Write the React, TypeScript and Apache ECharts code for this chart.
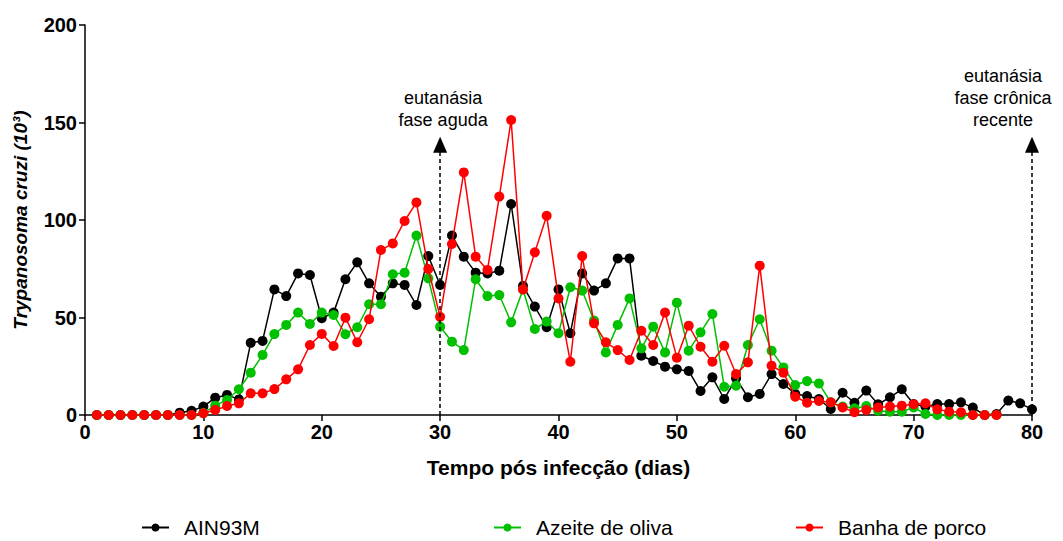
import React, { useEffect, useRef } from "react";
import * as echarts from "echarts";

// Parasitemia (x10^3 trypomastigotes) per day post infection, per diet group
const seriesNames = ["AIN93M", "Azeite de oliva", "Banha de porco"];
const seriesColors = ["#000000", "#00c000", "#ff0000"];

const ain93m = [
  0, 0, 0, 0, 0, 0, 0, 1.2, 2.2, 4.3,
  8.9, 10.3, 8, 37, 38, 64.4, 61, 72.6, 71.8, 49.6,
  52.5, 69.6, 78.3, 67.5, 60.7, 67.5, 66.7, 56.4, 81.5, 66.7,
  92, 81.2, 73, 72.6, 74, 108.2, 66.2, 55.6, 45, 64.4,
  41.9, 72.6, 63.8, 67.5, 80.3, 80.3, 30.4, 27.7, 24.8, 23.4,
  22.6, 12.3, 19.3, 8.2, 18.8, 9.1, 10.8, 21, 15.9, 10.8,
  9.7, 8.2, 3.1, 11.4, 6.3, 12.5, 5.5, 9.1, 13.2, 5.6,
  4.3, 5.6, 5.6, 6.5, 3.8, 0, 0.5, 7.4, 6, 2.9,
];

const azeite = [
  0, 0, 0, 0, 0, 0, 0, 0, 0, 1,
  4.8, 7.7, 13.2, 21.7, 30.8, 41.5, 46.2, 52.5, 46.7, 52.5,
  51.3, 41.4, 45, 56.8, 56.8, 72.2, 73, 92, 70.1, 45.3,
  37.6, 33.3, 69.6, 61, 61.5, 47.5, 64.4, 44.1, 47.9, 41.9,
  65.5, 63.8, 48.4, 32.1, 46.2, 59.8, 34.2, 45.3, 32.1, 57.6,
  33, 42.4, 51.8, 14.5, 15, 35.9, 49.1, 33, 24.4, 15.4,
  17.4, 16.2, 6.5, 4.3, 3.4, 4.6, 2.2, 1.7, 1.7, 3.9,
  0.5, 0, 0, 0, 0, 0, 0,
];

const banha = [
  0, 0, 0, 0, 0, 0, 0, 0, 0, 0.9,
  2.6, 4.6, 6, 11.1, 11.1, 13.3, 18.3, 23.4, 35.9, 41.6,
  35.4, 49.9, 37.3, 49.1, 84.6, 88, 99.5, 109, 74.9, 50.4,
  87.7, 124.4, 81.2, 74.4, 112, 151.3, 64.4, 83.4, 102.2, 59.8,
  27.3, 81.5, 47, 37.3, 33.3, 28.2, 43.2, 35.9, 52.5, 29.4,
  45.8, 35, 27.3, 35.5, 21, 27, 76.6, 25.3, 21.7, 9.4,
  6.3, 7.2, 6.5, 3.9, 1.4, 2.6, 3.9, 4.3, 4.8, 5.5,
  6, 2.9, 1.7, 1.4, 0, 0, 0,
];

const seriesValues = [ain93m, azeite, banha];

// Euthanasia markers
const annotationDays = [30, 80];
const annotationLabels = ["eutanásia\nfase aguda", "eutanásia\nfase crônica\nrecente"];
const arrowValue = 138.6;

const xTicks = { min: 0, max: 80, interval: 10 };
const yTicks = { min: 0, max: 200, interval: 50 };

const FONT = "'Liberation Sans', Arial, Helvetica, sans-serif";

export default function App() {
  const ref = useRef<HTMLDivElement>(null);

  useEffect(() => {
    if (!ref.current) return;
    const chart = echarts.init(ref.current, null, { renderer: "svg" });

    const series: any[] = seriesNames.map((name, si) => ({
      name,
      type: "line",
      data: seriesValues[si].map((v, i) => [i + 1, v]),
      symbol: "circle",
      symbolSize: 10,
      showSymbol: true,
      color: seriesColors[si],
      lineStyle: { color: seriesColors[si], width: 1.5 },
      itemStyle: { color: seriesColors[si] },
      z: 2 + si,
    }));

    series[0].markLine = {
      silent: true,
      animation: false,
      symbol: ["none", "triangle"],
      symbolSize: [14, 16],
      label: { show: false },
      lineStyle: { color: "#000", width: 1.5, type: [4, 3] },
      emphasis: { disabled: true },
      data: annotationDays.map((d) => [
        { coord: [d, 0] },
        { coord: [d, arrowValue] },
      ]),
    };

    const legendLefts = [136, 488, 790];

    const option: any = {
      animation: false,
      backgroundColor: "#ffffff",
      textStyle: { fontFamily: FONT },
      grid: { left: 85, right: 31, top: 25, bottom: 126, containLabel: false },
      legend: seriesNames.map((name, i) => ({
        data: [name],
        left: legendLefts[i],
        top: 512,
        itemWidth: 27,
        itemHeight: 10,
        selectedMode: false,
        textStyle: {
          fontFamily: FONT,
          fontSize: 21,
          color: "#000",
          padding: [0, 0, 0, 10],
        },
      })),
      xAxis: {
        type: "value",
        min: xTicks.min,
        max: xTicks.max,
        interval: xTicks.interval,
        name: "Tempo pós infecção (dias)",
        nameLocation: "middle",
        nameGap: 42,
        nameTextStyle: {
          fontFamily: FONT,
          fontSize: 21,
          fontWeight: "bold",
          color: "#000",
        },
        axisLine: { show: true, onZero: false, lineStyle: { color: "#000", width: 1.5 } },
        axisTick: { show: true, length: 6, lineStyle: { color: "#000", width: 1.5 } },
        axisLabel: {
          fontFamily: FONT,
          fontSize: 20,
          fontWeight: "bold",
          color: "#000",
          margin: 7,
        },
        splitLine: { show: false },
      },
      yAxis: {
        type: "value",
        min: yTicks.min,
        max: yTicks.max,
        interval: yTicks.interval,
        name: "Trypanosoma cruzi (10³)",
        nameLocation: "middle",
        nameGap: 55,
        nameRotate: 90,
        nameTextStyle: {
          fontFamily: FONT,
          fontSize: 19,
          fontWeight: "bold",
          fontStyle: "italic",
          color: "#000",
        },
        axisLine: { show: true, lineStyle: { color: "#000", width: 1.5 } },
        axisTick: { show: true, length: 6, lineStyle: { color: "#000", width: 1.5 } },
        axisLabel: {
          fontFamily: FONT,
          fontSize: 20,
          fontWeight: "bold",
          color: "#000",
          margin: 8,
        },
        splitLine: { show: false },
      },
      series,
    };

    chart.setOption(option);

    // Captions above the euthanasia arrows
    const labelShiftX = [3, -29];
    const graphics = annotationDays.map((d, i) => {
      const p = chart.convertToPixel({ xAxisIndex: 0, yAxisIndex: 0 }, [d, arrowValue]) as number[];
      return {
        type: "text",
        x: p[0] + labelShiftX[i],
        y: p[1] - 14,
        silent: true,
        style: {
          text: annotationLabels[i],
          fontFamily: FONT,
          fontSize: 18,
          lineHeight: 22,
          fill: "#000",
          align: "center",
          verticalAlign: "bottom",
          textAlign: "center",
          textVerticalAlign: "bottom",
        },
      };
    });
    chart.setOption({ graphic: graphics });

    return () => {
      chart.dispose();
    };
  }, []);

  return (
    <div
      ref={ref}
      style={{ position: "fixed", left: 0, top: 0, width: 1063, height: 541, background: "#fff" }}
    />
  );
}
